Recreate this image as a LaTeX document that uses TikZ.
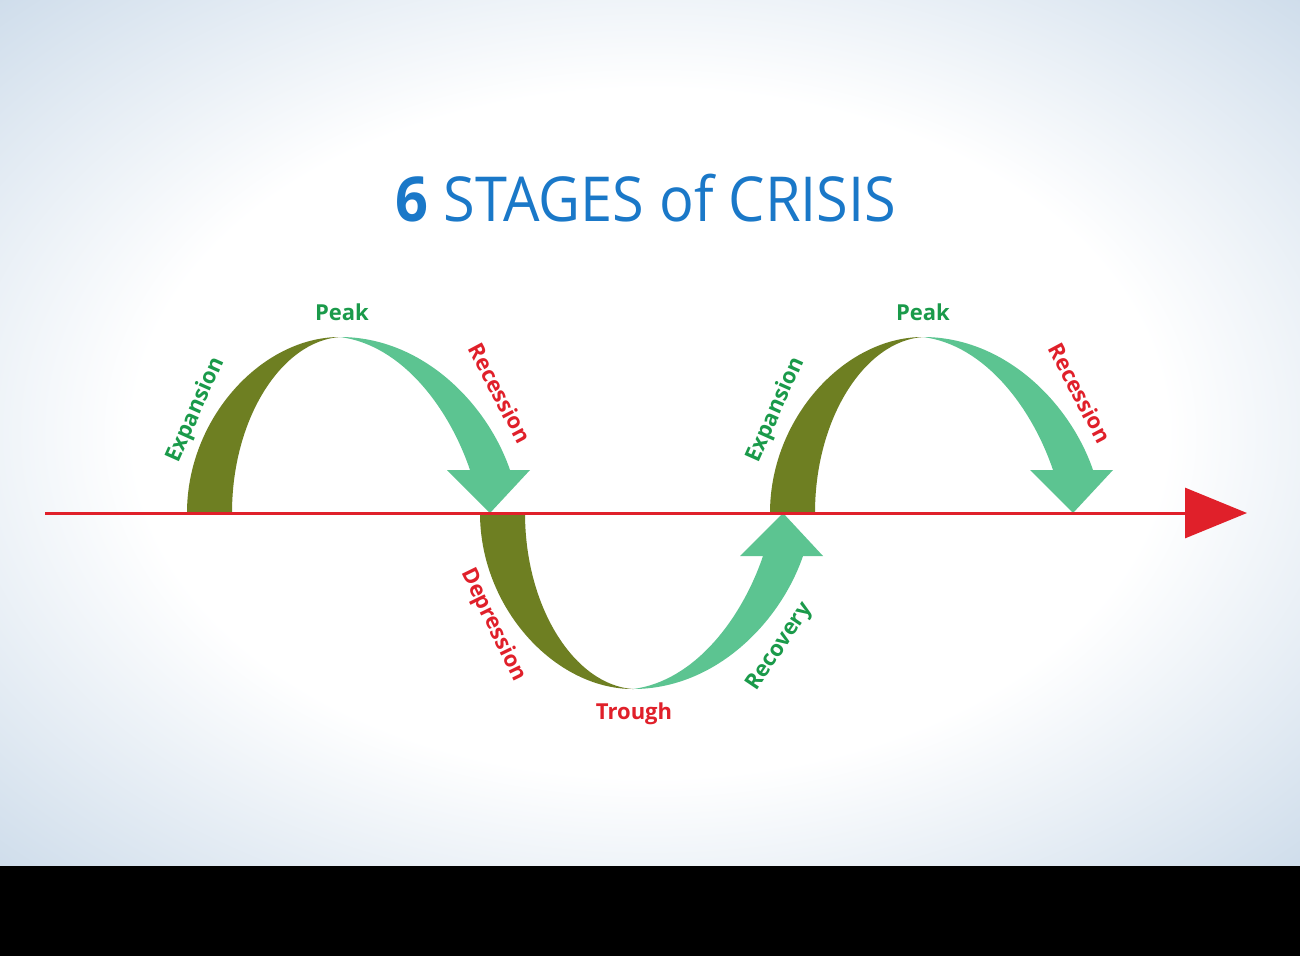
\documentclass[tikz,border=0pt]{standalone}
\usepackage{fontspec}
\setmainfont{Open Sans}
\usetikzlibrary{arrows.meta}
%colores
\definecolor{oliva}{HTML}{6E7F22}
\definecolor{verde}{HTML}{5CC491}
\definecolor{vtexto}{HTML}{1A9A4A}
\definecolor{rojo}{HTML}{E0202A}
\definecolor{azul}{HTML}{1A78C8}
\definecolor{borde}{HTML}{8CA8C6}
\definecolor{medio}{HTML}{CFDDEB}
\pgfdeclareradialshading{fondo}{\pgfpoint{0cm}{0cm}}{%
  color(0cm)=(white); color(0.7cm)=(white); color(1.25cm)=(medio);
  color(2cm)=(borde)}
\newcommand{\onda}[1]{%
  % banda oliva
  \fill[oliva,#1] (0,0) .. controls (0,-95) and (75,-176) .. (153,-176)
     .. controls (95,-172) and (45,-95) .. (45,0) -- cycle;
  % flecha verde
  \fill[verde,#1] (153,-176) .. controls (235,-176) and (300,-110) .. (323,-43)
     -- (343,-43) -- (303,0) -- (260,-43) -- (283,-43)
     .. controls (262,-105) and (215,-168) .. (153,-176) -- cycle;
}
\begin{document}
\begin{tikzpicture}[x=1pt,y=-1pt,
    etiq/.style={font=\bfseries\fontsize{22}{24}\selectfont,inner sep=0pt}]
  % fondo
  \useasboundingbox (0,0) rectangle (1300,956);
  \shade[shading=fondo] (0,0) rectangle (1300,866);
  \fill[black] (0,866) rectangle (1300,956);

  % titulo
  \node[font=\fontsize{62}{66}\selectfont,text=azul,xscale=0.93] (titulo) at (646,198)
    {\textbf{6} STAGES of CRISIS};

  % ondas
  \begin{scope}[shift={(187,513)}] \onda{} \end{scope}
  \begin{scope}[shift={(480,513)},yscale=-1] \onda{} \end{scope}
  \begin{scope}[shift={(770,513)}] \onda{} \end{scope}

  % eje
  \coordinate (eje ini) at (45,513);
  \coordinate (eje fin) at (1247,513);
  \draw[rojo,line width=3pt,-{Triangle[length=62pt,width=50pt]}] (eje ini) -- (eje fin);

  % etiquetas
  \node[etiq,text=vtexto] (pico1) at (342,312) {Peak};
  \node[etiq,text=vtexto,rotate=66] (exp1) at (196,410) {Expansion};
  \node[etiq,text=rojo,rotate=-62] (rec1) at (500,393) {Recession};
  \node[etiq,text=rojo,rotate=-64] (dep) at (493,625) {Depression};
  \node[etiq,text=rojo] (valle) at (634,714) {Trough};
  \node[etiq,text=vtexto,rotate=56] (recup) at (780,647) {Recovery};
  \node[etiq,text=vtexto,rotate=66] (exp2) at (776,410) {Expansion};
  \node[etiq,text=vtexto] (pico2) at (923,312) {Peak};
  \node[etiq,text=rojo,rotate=-62] (rec2) at (1080,393) {Recession};
\end{tikzpicture}
\end{document}
